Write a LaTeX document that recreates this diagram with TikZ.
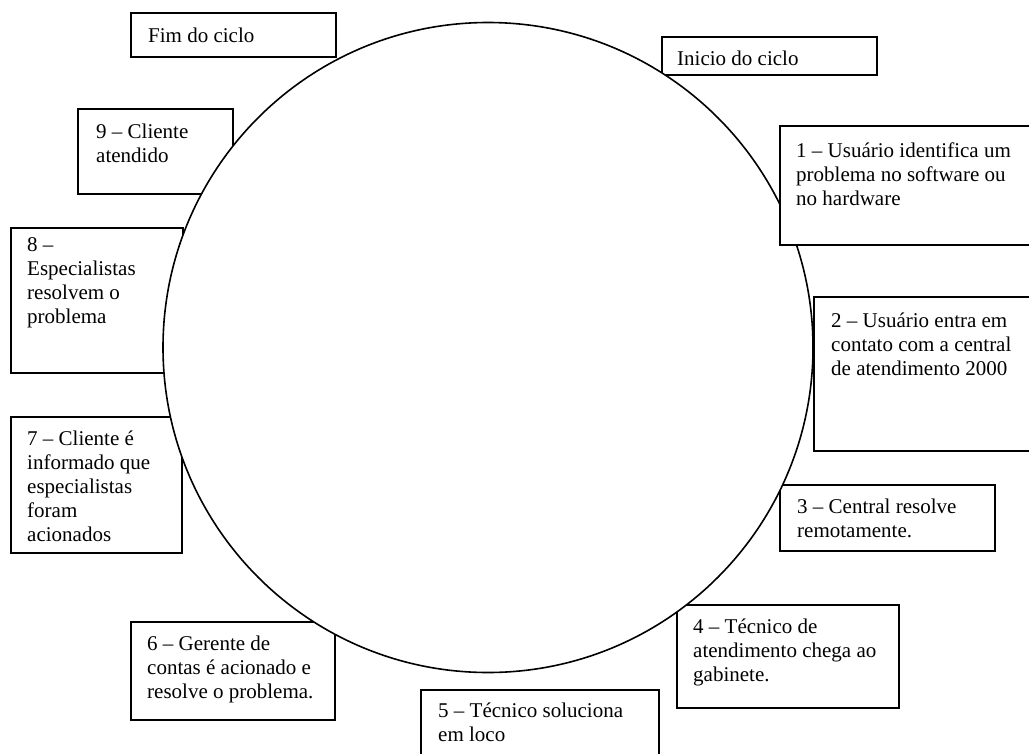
\documentclass[tikz,border=0pt]{standalone}
\usepackage{fontspec}
\setmainfont{Liberation Serif}
\newcommand\boxlines[1]{\parbox[t]{320pt}{\raggedright #1}}
\begin{document}
\begin{tikzpicture}[x=1pt,y=-1pt,
  frame/.style={draw=black, line width=1.5pt, fill=white, rectangle, inner sep=0pt, outer sep=0pt, anchor=north west},
  txt/.style={anchor=base west, inner sep=0pt, font=\fontsize{21}{24}\selectfont},
  ring/.style={draw=black, line width=1.6pt, fill=white, circle, inner sep=0pt, minimum size=650pt}]
\clip (0,0) rectangle (1029,753);
\fill[white] (0,0) rectangle (1029,753);

% frames lying beneath the circle
\node[frame, minimum width=205pt, minimum height=44pt] (fimbox) at (131,13) {};
\node[frame, minimum width=215pt, minimum height=38pt] (iniciobox) at (662,37) {};
\node[frame, minimum width=155pt, minimum height=85pt] (b9) at (78,109) {};
\node[frame, minimum width=172pt, minimum height=145pt] (b8) at (11,228) {};
\node[frame, minimum width=171pt, minimum height=136pt] (b7) at (11,417) {};
\node[frame, minimum width=215pt, minimum height=66pt] (b3) at (780,485) {};
\node[frame, minimum width=222pt, minimum height=103pt] (b4) at (677,605) {};
\node[frame, minimum width=204pt, minimum height=98pt] (b6) at (131,622) {};
\node[frame, minimum width=238pt, minimum height=80pt] (b5) at (421,690) {};

% the cycle
\node[ring] (cycle) at (488,347.5) {};

% frames lying over the circle
\node[frame, minimum width=270pt, minimum height=119pt] (b1) at (780,126) {};
\node[frame, minimum width=230pt, minimum height=154pt] (b2) at (814,297) {};

% labels
\node[txt] (tfim) at (148,42) {Fim do ciclo};
\node[txt] (tinicio) at (677,65) {Inicio do ciclo};
\node[txt] (t9) at (96,138) {\boxlines{9 – Cliente\\atendido}};
\node[txt] (t1) at (796,157) {\boxlines{1 – Usuário identifica um\\problema no software ou\\no hardware}};
\node[txt] (t8) at (27,251) {\boxlines{8 –\\Especialistas\\resolvem o\\problema}};
\node[txt] (t2) at (831,327) {\boxlines{2 – Usuário entra em\\contato com a central\\de atendimento 2000}};
\node[txt] (t7) at (27,445) {\boxlines{7 – Cliente é\\informado que\\especialistas\\foram\\acionados}};
\node[txt] (t3) at (797,513) {\boxlines{3 – Central resolve\\remotamente.}};
\node[txt] (t4) at (693,633) {\boxlines{4 – Técnico de\\atendimento chega ao\\gabinete.}};
\node[txt] (t6) at (147,650) {\boxlines{6 – Gerente de\\contas é acionado e\\resolve o problema.}};
\node[txt] (t5) at (438,717) {\boxlines{5 – Técnico soluciona\\em loco}};
\end{tikzpicture}
\end{document}
